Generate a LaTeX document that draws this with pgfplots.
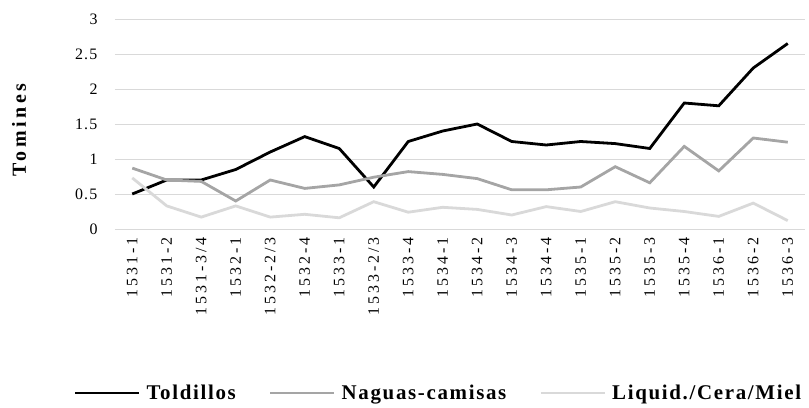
\documentclass[border=0pt]{standalone}
\usepackage{fontspec}
\setmainfont{Liberation Serif}[LetterSpace=8]
\newfontfamily\trackfont{Liberation Serif}[LetterSpace=18]
\usepackage{pgfplots}
\pgfplotsset{compat=1.18}
\definecolor{cgrid}{RGB}{217,217,217}
\definecolor{cmid}{RGB}{165,165,165}
\definecolor{clight}{RGB}{217,217,217}
\pgfplotstableread{
x T N L
0 0.50 0.87 0.73
1 0.70 0.70 0.33
2 0.70 0.68 0.17
3 0.85 0.40 0.33
4 1.10 0.70 0.17
5 1.32 0.58 0.21
6 1.15 0.63 0.16
7 0.60 0.74 0.39
8 1.25 0.82 0.24
9 1.40 0.78 0.31
10 1.50 0.72 0.28
11 1.25 0.56 0.20
12 1.20 0.56 0.32
13 1.25 0.60 0.25
14 1.22 0.89 0.39
15 1.15 0.66 0.30
16 1.80 1.18 0.25
17 1.76 0.83 0.18
18 2.30 1.30 0.37
19 2.65 1.24 0.12
}\data
\begin{document}
\begin{tikzpicture}
\begin{axis}[
  scale only axis,
  width=690bp, height=210bp,
  xmin=-0.5, xmax=19.5,
  ymin=0, ymax=3,
  ytick={0,0.5,...,3},
  xtick={0,...,19},
  xticklabels={1531-1,1531-2,1531-3/4,1532-1,1532-2/3,1532-4,1533-1,1533-2/3,1533-4,1534-1,1534-2,1534-3,1534-4,1535-1,1535-2,1535-3,1535-4,1536-1,1536-2,1536-3},
  x tick label style={rotate=90, anchor=east, font=\trackfont\fontsize{16}{18}\selectfont},
  y tick label style={font=\fontsize{16}{18}\selectfont},
  /pgf/number format/assume math mode=true,
  yticklabel style={/pgf/number format/.cd, fixed, precision=1},
  ymajorgrids,
  grid style={cgrid, line width=1bp},
  axis line style={draw=none},
  major tick length=0pt,
  xticklabel shift=5bp,
  yticklabel shift=14bp,
  ylabel={\textbf{Tomines}},
  ylabel style={font=\trackfont\fontsize{20}{24}\selectfont, at={(axis description cs:-0.139,0.48)}, anchor=center},
  legend columns=3,
  legend style={draw=none, at={(axis description cs:0.468,-0.781)}, anchor=center,
    font=\fontsize{21}{24}\selectfont\bfseries,
    nodes={inner sep=1bp},
    /tikz/every odd column/.append style={column sep=5bp},
    /tikz/every even column/.append style={column sep=32bp}},
  legend image code/.code={\draw[#1] (0bp,0bp) -- (64bp,0bp);},
  clip=false,
]
\addplot[black, line width=2.8bp] table[x=x,y=T]{\data};
\addlegendentry{Toldillos}
\addplot[cmid, line width=2.8bp] table[x=x,y=N]{\data};
\addlegendentry{Naguas-camisas}
\addplot[clight, line width=2.8bp] table[x=x,y=L]{\data};
\addlegendentry{Liquid./Cera/Miel}
\end{axis}
\path[use as bounding box] (-115bp,-179bp) rectangle (694bp,229bp);
\end{tikzpicture}
\end{document}
